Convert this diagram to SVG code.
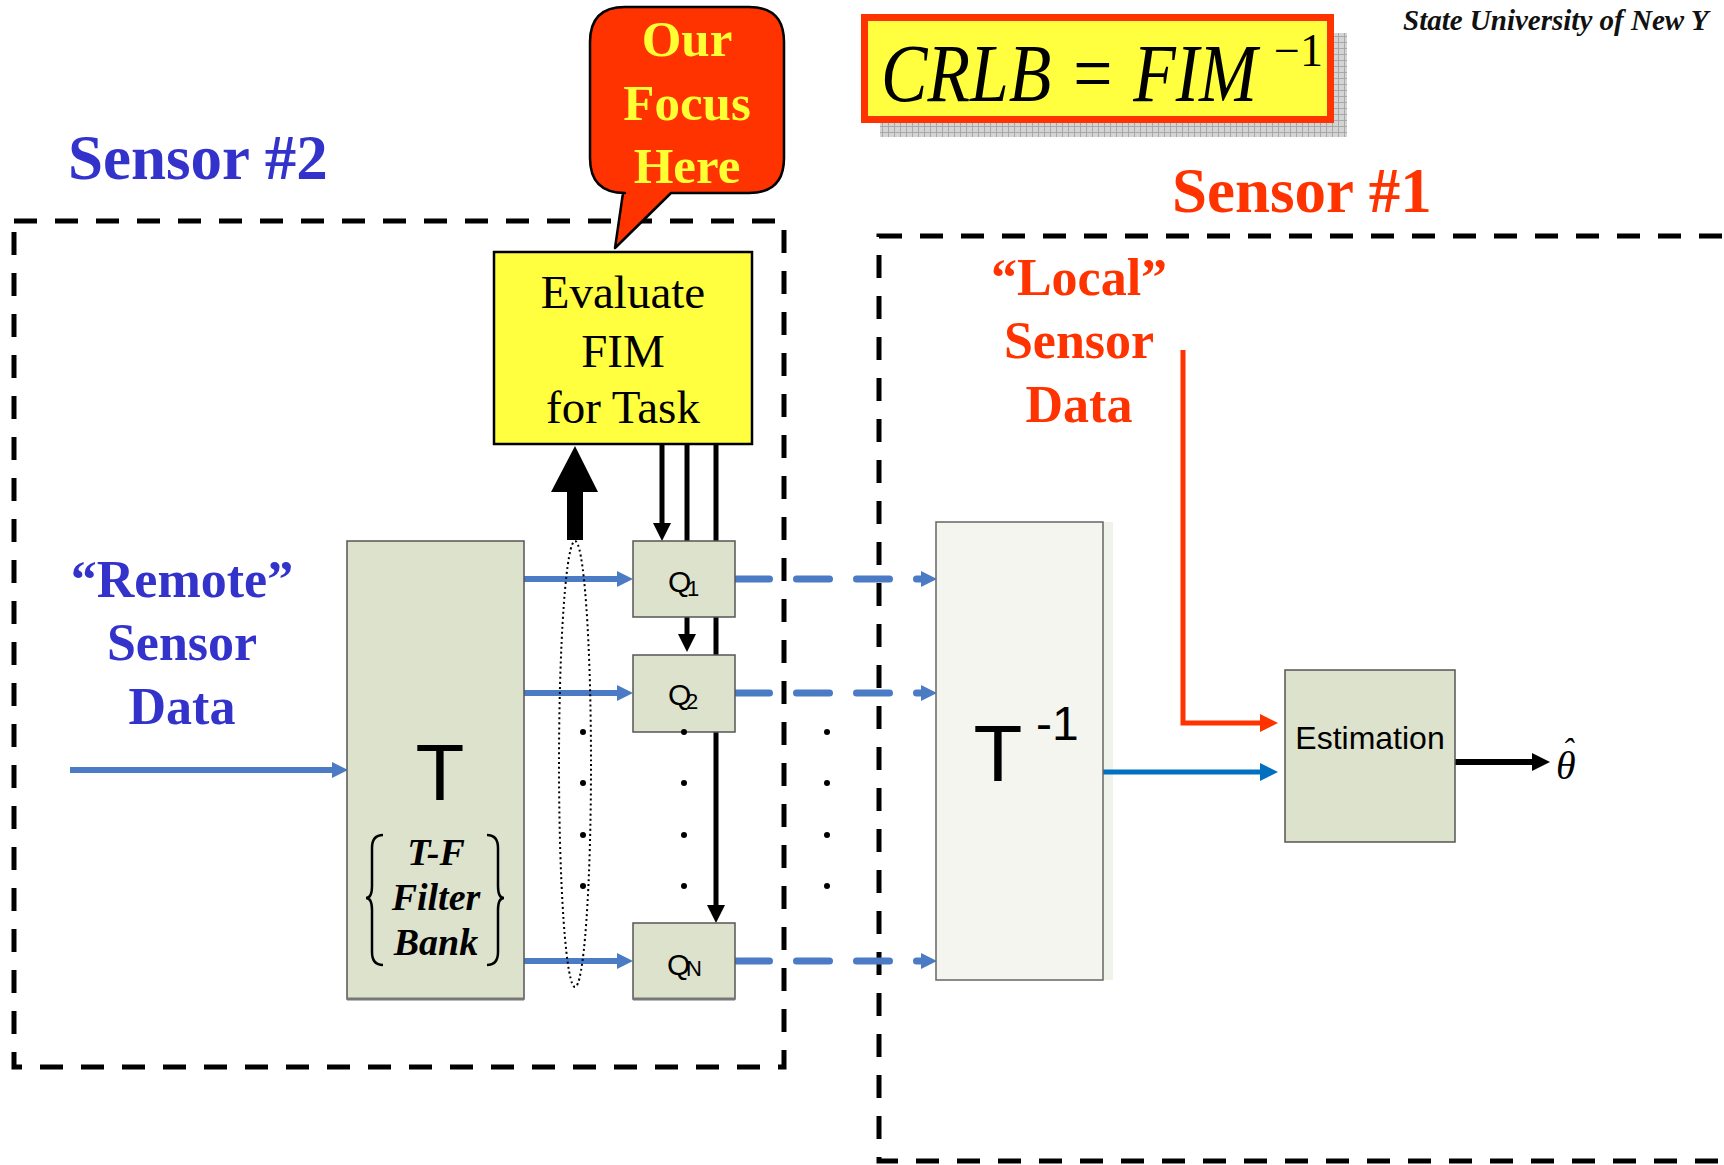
<svg xmlns="http://www.w3.org/2000/svg" width="1724" height="1165" viewBox="0 0 1724 1165">
<defs>
<style>
.serif{font-family:"Liberation Serif","Times New Roman",serif}
.sans{font-family:"Liberation Sans",Arial,sans-serif}
.boxg{fill:#DDE2CC;stroke:#555;stroke-width:1.5}
.dash{fill:none;stroke:#000;stroke-width:5;stroke-dasharray:23 18}
.bl{stroke:#4A7BC4;stroke-width:6;fill:none}
.bld{stroke:#4A7BC4;stroke-width:7;fill:none;stroke-dasharray:33 27;stroke-linecap:round}
.blk{stroke:#000;stroke-width:5;fill:none}
.dot{fill:#000}
</style>
<pattern id="grid" width="6" height="6" patternUnits="userSpaceOnUse">
<rect width="6" height="6" fill="#D4D4D4"/>
<path d="M0,0.5H6M0.5,0V6" stroke="#A8A8A8" stroke-width="1"/>
</pattern>
<marker id="mBlue" viewBox="0 0 16 16" markerWidth="16" markerHeight="16" refX="6" refY="8" markerUnits="userSpaceOnUse" orient="auto"><path d="M0,0L16,8L0,16z" fill="#4A7BC4"/></marker>
<marker id="mBlue2" viewBox="0 0 18 18" markerWidth="18" markerHeight="18" refX="8" refY="9" markerUnits="userSpaceOnUse" orient="auto"><path d="M0,0L18,9L0,18z" fill="#0070C0"/></marker>
<marker id="mRed" viewBox="0 0 18 18" markerWidth="18" markerHeight="18" refX="8" refY="9" markerUnits="userSpaceOnUse" orient="auto"><path d="M0,0L18,9L0,18z" fill="#FF3300"/></marker>
<marker id="mBlack" viewBox="0 0 18 18" markerWidth="18" markerHeight="18" refX="8" refY="9" markerUnits="userSpaceOnUse" orient="auto"><path d="M0,0L18,9L0,18z" fill="#000"/></marker>
</defs>
<rect width="1724" height="1165" fill="#fff"/>

<text class="serif" x="1403" y="30" font-size="29" font-style="italic" font-weight="bold" fill="#111">State University of New Y</text>

<g id="sensor2-group">
<rect class="dash" x="14" y="221" width="770" height="846"/>
<text class="serif" x="68" y="179" font-size="63" font-weight="bold" fill="#3333CC">Sensor #2</text>
</g>
<g id="sensor1-group">
<rect class="dash" x="879" y="236" width="900" height="925"/>
<text class="serif" x="1172" y="212" font-size="63" font-weight="bold" fill="#FF3300">Sensor #1</text>
</g>

<g id="remote-label" class="serif" font-size="52" font-weight="bold" fill="#3333CC" text-anchor="middle">
<text x="182" y="597">“Remote”</text>
<text x="182" y="660">Sensor</text>
<text x="182" y="724">Data</text>
</g>
<g id="local-label" class="serif" font-size="52" font-weight="bold" fill="#FF3300" text-anchor="middle">
<text x="1079" y="295">“Local”</text>
<text x="1079" y="358">Sensor</text>
<text x="1079" y="422">Data</text>
</g>

<g id="crlb">
<rect x="880" y="33" width="467" height="104" fill="url(#grid)"/>
<rect x="864.5" y="17.5" width="466" height="102" fill="#FFFF3F" stroke="#FF3300" stroke-width="7"/>
<text class="serif" x="881" y="101" font-size="82" font-style="italic" textLength="376" lengthAdjust="spacingAndGlyphs">CRLB = FIM</text>
<text class="serif" x="1274" y="66" font-size="46">−1</text>
</g>

<rect id="t-inverse-shadow" x="1103" y="522" width="10" height="458" fill="#F0F3EA"/>

<g id="connectors">
<line class="bl" x1="70" y1="770" x2="338" y2="770" marker-end="url(#mBlue)"/>
<line class="bl" x1="524" y1="579" x2="623" y2="579" marker-end="url(#mBlue)"/>
<line class="bl" x1="524" y1="693" x2="623" y2="693" marker-end="url(#mBlue)"/>
<line class="bl" x1="524" y1="961" x2="623" y2="961" marker-end="url(#mBlue)"/>
<line class="bld" x1="736.5" y1="579" x2="927" y2="579" marker-end="url(#mBlue)"/>
<line class="bld" x1="736.5" y1="693" x2="927" y2="693" marker-end="url(#mBlue)"/>
<line class="bld" x1="736.5" y1="961" x2="927" y2="961" marker-end="url(#mBlue)"/>
<line class="blk" x1="662" y1="444" x2="662" y2="531" marker-end="url(#mBlack)"/>
<line class="blk" x1="687" y1="444" x2="687" y2="545"/>
<line class="blk" x1="687" y1="617" x2="687" y2="642" marker-end="url(#mBlack)"/>
<line class="blk" x1="716" y1="444" x2="716" y2="913" marker-end="url(#mBlack)"/>
<polygon points="567,540 583,540 583,492 598,492 575,446 551,492 567,492" fill="#000"/>
<ellipse cx="575" cy="764" rx="16" ry="223" fill="none" stroke="#000" stroke-width="2" stroke-dasharray="2 3"/>
<line x1="1103" y1="772" x2="1268" y2="772" stroke="#0070C0" stroke-width="5" marker-end="url(#mBlue2)"/>
<polyline points="1183,350 1183,723 1268,723" fill="none" stroke="#FF3300" stroke-width="5" marker-end="url(#mRed)"/>
<line x1="1455" y1="762" x2="1540" y2="762" stroke="#000" stroke-width="6" marker-end="url(#mBlack)"/>
</g>

<g id="dots">
<circle class="dot" cx="583" cy="732" r="3"/><circle class="dot" cx="583" cy="783" r="3"/><circle class="dot" cx="583" cy="835" r="3"/><circle class="dot" cx="583" cy="886" r="3"/>
<circle class="dot" cx="684" cy="783" r="3"/><circle class="dot" cx="684" cy="835" r="3"/><circle class="dot" cx="684" cy="886" r="3"/>
<circle class="dot" cx="827" cy="732" r="3"/><circle class="dot" cx="827" cy="783" r="3"/><circle class="dot" cx="827" cy="835" r="3"/><circle class="dot" cx="827" cy="886" r="3"/>
</g>

<g id="bubble">
<path d="M625,7 H749 Q784,7 784,42 V158 Q784,193 749,193 H671 L615,248 L623,193 H625 Q590,193 590,158 V42 Q590,7 625,7 Z" fill="#FF3300" stroke="#000" stroke-width="2.5" stroke-linejoin="round"/>
<g class="serif" font-size="51" font-weight="bold" fill="#FFFF33" text-anchor="middle">
<text x="687" y="56">Our</text>
<text x="687" y="120">Focus</text>
<text x="687" y="183">Here</text>
</g>
</g>

<g id="evaluate-fim">
<rect x="494" y="252" width="258" height="192" fill="#FFFF3F" stroke="#000" stroke-width="2.5"/>
<g class="serif" font-size="47" text-anchor="middle">
<text x="623" y="308">Evaluate</text>
<text x="623" y="367">FIM</text>
<text x="623" y="423">for Task</text>
</g>
</g>

<g id="t-block">
<rect class="boxg" x="347" y="541" width="177" height="458"/>
<line x1="347" y1="999" x2="524" y2="999" stroke="#777" stroke-width="3"/>
<text class="sans" x="440" y="800" font-size="80" text-anchor="middle">T</text>
<g class="serif" font-size="38" font-weight="bold" font-style="italic" text-anchor="middle">
<text x="436" y="865">T-F</text>
<text x="436" y="910">Filter</text>
<text x="436" y="955">Bank</text>
</g>
<path d="M383,835 Q372,835 372,848 L372,886 Q372,898 366,898 Q372,898 372,910 L372,952 Q372,965 383,965" fill="none" stroke="#000" stroke-width="2.5"/>
<path d="M487,835 Q498,835 498,848 L498,886 Q498,898 504,898 Q498,898 498,910 L498,952 Q498,965 487,965" fill="none" stroke="#000" stroke-width="2.5"/>
</g>

<g id="q1">
<rect class="boxg" x="633" y="541" width="102" height="76"/>
<text class="sans" x="668" y="592" font-size="30">Q</text>
<text class="sans" x="687" y="596" font-size="22">1</text>
</g>
<g id="q2">
<rect class="boxg" x="633" y="655" width="102" height="77"/>
<text class="sans" x="668" y="705" font-size="30">Q</text>
<text class="sans" x="686" y="709" font-size="22">2</text>
</g>
<g id="qn">
<rect class="boxg" x="633" y="923" width="102" height="76"/>
<line x1="633" y1="999" x2="735" y2="999" stroke="#777" stroke-width="3"/>
<text class="sans" x="667" y="975" font-size="30">Q</text>
<text class="sans" x="686" y="976" font-size="22">N</text>
</g>
<circle class="dot" cx="684" cy="732" r="3"/>

<g id="t-inverse">
<rect x="936" y="522" width="167" height="458" fill="#F3F5EE" stroke="#666" stroke-width="1.5"/>
<text class="sans" x="998" y="781" font-size="80" text-anchor="middle">T</text>
<text class="sans" x="1036" y="740" font-size="48">-1</text>
</g>

<g id="estimation">
<rect class="boxg" x="1285" y="670" width="170" height="172"/>
<text class="sans" x="1370" y="749" font-size="32" text-anchor="middle">Estimation</text>
</g>

<g id="theta-hat" class="serif" font-style="italic">
<text x="1556" y="779" font-size="40">θ</text>
<text x="1562" y="762" font-size="34">ˆ</text>
</g>
</svg>
